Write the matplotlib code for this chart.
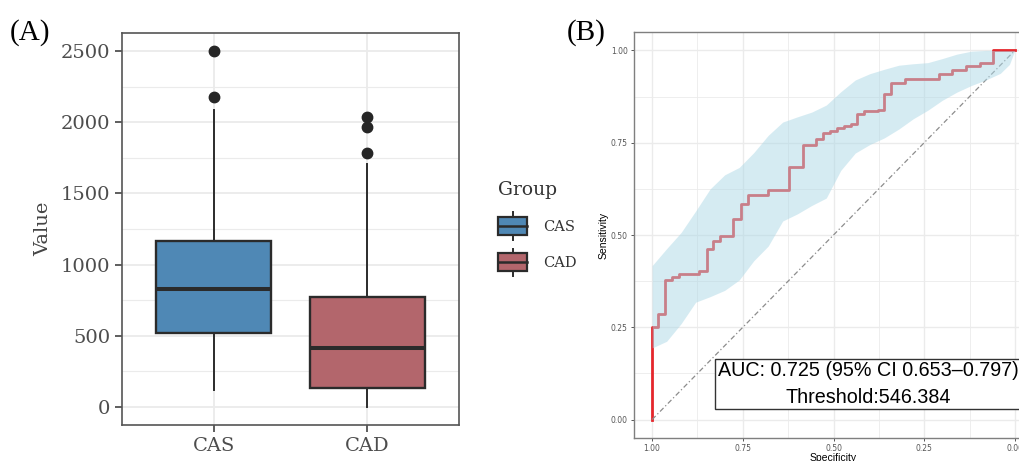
import matplotlib
matplotlib.use("Agg")
import matplotlib.pyplot as plt
from matplotlib.legend_handler import HandlerBase
from matplotlib.patches import Rectangle, Patch
from matplotlib.lines import Line2D
from matplotlib.ticker import MultipleLocator

# ---- panel A: boxplot summary ----
groups = ["CAS", "CAD"]
box_colors = ["#4F88B5", "#B3666C"]
q1 = [520, 131]
median = [829, 417]
q3 = [1165, 772]
whisker_low = [119, 0]
whisker_high = [2086, 1704]
outliers = [[2500, 2177], [2039, 1969, 1781]]

# ---- panel B: ROC curve (specificity, sensitivity) ----
roc_spec = [1.0, 1.0, 0.983, 0.964, 0.946, 0.926, 0.870, 0.849, 0.833, 0.813,
            0.776, 0.756, 0.737, 0.681, 0.624, 0.585, 0.548, 0.530, 0.510, 0.490,
            0.470, 0.453, 0.434, 0.415, 0.378, 0.360, 0.341, 0.303, 0.209, 0.172,
            0.135, 0.096, 0.060, 0.0]
roc_sens = [0.0, 0.25, 0.285, 0.379, 0.386, 0.393, 0.402, 0.463, 0.485, 0.497,
            0.544, 0.584, 0.609, 0.622, 0.684, 0.745, 0.760, 0.776, 0.783, 0.789,
            0.795, 0.801, 0.828, 0.836, 0.840, 0.883, 0.912, 0.923, 0.936, 0.947,
            0.958, 0.966, 1.0, 1.0]

# confidence band of sensitivity
ci_spec = [1.0, 0.96, 0.92, 0.88, 0.84, 0.80, 0.76, 0.72, 0.68, 0.64, 0.60, 0.56,
           0.52, 0.48, 0.44, 0.40, 0.36, 0.32, 0.28, 0.24, 0.20, 0.16, 0.12, 0.08,
           0.04, 0.015, 0.0]
ci_upper = [0.417, 0.463, 0.507, 0.565, 0.625, 0.663, 0.683, 0.723, 0.770, 0.806,
            0.820, 0.833, 0.852, 0.888, 0.920, 0.937, 0.949, 0.960, 0.964, 0.967,
            0.978, 0.990, 0.998, 1.0, 1.0, 1.0, 1.0]
ci_lower = [0.194, 0.212, 0.260, 0.318, 0.333, 0.350, 0.378, 0.430, 0.470, 0.538,
            0.557, 0.580, 0.600, 0.675, 0.722, 0.745, 0.763, 0.787, 0.815, 0.838,
            0.865, 0.887, 0.905, 0.920, 0.938, 0.962, 1.0]

chance_spec = [1.0, 0.0]
chance_sens = [0.0, 1.0]

auc = 0.725
auc_lo, auc_hi = 0.653, 0.797
threshold = 546.384

W, H = 1019, 461
fig = plt.figure(figsize=(W / 100, H / 100), dpi=100)

serif = "DejaVu Serif"
sans = "Liberation Sans"
dark = "#2b2b2b"
grid_col = "#EBEBEB"


class BoxKey(HandlerBase):
    # draws a small vertical boxplot glyph as legend key
    def create_artists(self, legend, orig_handle, xdescent, ydescent,
                       width, height, fontsize, trans):
        x0, y0 = -xdescent, -ydescent
        lo, hi = y0 + 0.02 * height, y0 + 0.98 * height
        box = Rectangle((x0, lo), width, hi - lo,
                        facecolor=orig_handle.get_facecolor(), edgecolor=dark,
                        lw=1.6, transform=trans)
        cx = x0 + width / 2
        med = Line2D([x0, x0 + width], [y0 + height / 2] * 2, color=dark,
                     lw=1.8, transform=trans)
        top = Line2D([cx, cx], [hi, hi + 0.25 * height], color=dark,
                     lw=1.4, transform=trans)
        bot = Line2D([cx, cx], [lo - 0.25 * height, lo], color=dark,
                     lw=1.4, transform=trans)
        return [top, bot, box, med]


# ================= panel A =================
ax = fig.add_axes([122 / W, 36 / H, 337 / W, 392 / H])
stats = []
for i, g in enumerate(groups):
    stats.append(dict(label=g, med=median[i], q1=q1[i], q3=q3[i],
                      whislo=whisker_low[i], whishi=whisker_high[i],
                      fliers=outliers[i]))
bp = ax.bxp(stats, positions=[1, 2], widths=0.75, patch_artist=True,
            showcaps=False,
            boxprops=dict(linewidth=1.7, edgecolor=dark),
            medianprops=dict(color=dark, linewidth=2.9, solid_capstyle="butt"),
            whiskerprops=dict(color=dark, linewidth=1.4),
            flierprops=dict(marker="o", markerfacecolor="#262626",
                            markeredgecolor="#262626", markersize=7.5))
for patch, c in zip(bp["boxes"], box_colors):
    patch.set_facecolor(c)

ax.set_xlim(0.4, 2.6)
ax.set_ylim(-126, 2626)
ax.set_yticks(range(0, 2501, 500))
ax.yaxis.set_minor_locator(MultipleLocator(250))
ax.set_axisbelow(True)
ax.grid(which="major", color=grid_col, lw=1.3)
ax.grid(which="minor", axis="y", color=grid_col, lw=0.8)
ax.tick_params(which="minor", length=0)
ax.tick_params(which="major", labelsize=14, labelcolor="#4d4d4d",
               color="#333333", length=5, width=1.1)
for lab in ax.get_xticklabels() + ax.get_yticklabels():
    lab.set_family(serif)
for s in ax.spines.values():
    s.set_color("#555555")
    s.set_linewidth(1.2)
ax.set_ylabel("Value", family=serif, fontsize=14, color="#444444", labelpad=6)

fig.text(10 / W, 1 - 33 / H, "(A)", family="Liberation Serif", fontsize=21,
         va="center", ha="left")

handles = [Patch(facecolor=c, label=g) for g, c in zip(groups, box_colors)]
leg = fig.legend(handles=handles, handler_map={Patch: BoxKey()}, title="Group",
                 loc="upper left", bbox_to_anchor=(491 / W, 1 - 174 / H),
                 frameon=False, prop=dict(family=serif, size=10.5),
                 title_fontproperties=dict(family=serif, size=13.5),
                 handlelength=2.0, handleheight=1.6, labelspacing=1.2,
                 handletextpad=1.1, borderpad=0, alignment="left")
for t in leg.get_texts():
    t.set_color("#333333")
leg.get_title().set_color("#333333")

# ================= panel B =================
ax2 = fig.add_axes([634 / W, 23 / H, 399 / W, 406 / H])
ax2.step(roc_spec, roc_sens, where="post", color="#E5262C", lw=2.0, zorder=2)
ax2.fill_between(ci_spec, ci_lower, ci_upper, color="#ADD8E6", alpha=0.5,
                 lw=0, zorder=3)
ax2.plot(chance_spec, chance_sens, color="#8c8c8c", lw=0.9,
         ls=(0, (4, 2, 1, 2)), zorder=2)
ax2.set_xlim(1.05, -0.05)
ax2.set_ylim(-0.05, 1.05)
ticks = [1.0, 0.75, 0.5, 0.25, 0.0]
ax2.set_xticks(ticks)
ax2.set_xticklabels([f"{t:.2f}" for t in ticks])
ax2.set_yticks(ticks)
ax2.set_yticklabels([f"{t:.2f}" for t in ticks])
ax2.xaxis.set_minor_locator(MultipleLocator(0.125))
ax2.yaxis.set_minor_locator(MultipleLocator(0.125))
ax2.set_axisbelow(True)
ax2.grid(which="major", color=grid_col, lw=1.0)
ax2.grid(which="minor", color=grid_col, lw=0.6)
ax2.tick_params(which="minor", length=0)
ax2.tick_params(which="major", labelsize=5.5, labelcolor="#555555",
                color="#555555", length=2.5, width=0.7, pad=2)
for s in ax2.spines.values():
    s.set_color("#7f7f7f")
    s.set_linewidth(1.0)
ax2.set_xlabel("Specificity", family=sans, fontsize=7.5, labelpad=0)
ax2.set_ylabel("Sensitivity", family=sans, fontsize=7.5, labelpad=1.5)

label = (f"AUC: {auc:.3f} (95% CI {auc_lo:.3f}\u2013{auc_hi:.3f})\n"
         f"Threshold:{threshold:.3f}")
ax2.text(0.405, 0.096, label, ha="center", va="center", family=sans,
         fontsize=14.2, linespacing=1.5, zorder=5,
         bbox=dict(boxstyle="square,pad=0.12", fc="white", ec="#333333", lw=1.0))

fig.text(567 / W, 1 - 33 / H, "(B)", family="Liberation Serif", fontsize=21,
         va="center", ha="left")

fig.savefig("out.png", dpi=100)
